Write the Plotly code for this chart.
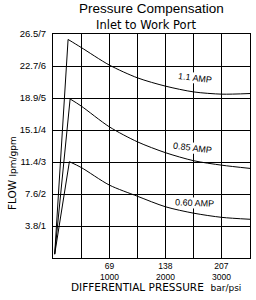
import plotly.graph_objects as go

# ---- data ----
psi_11 = [30, 268, 500, 1000, 1500, 2000, 2500, 3000, 3500]
gpm_11 = [0.12, 6.83, 6.58, 6.03, 5.63, 5.37, 5.19, 5.12, 5.14]

psi_085 = [30, 304, 500, 1000, 1500, 2000, 2500, 3000, 3500]
gpm_085 = [0.12, 4.97, 4.75, 4.10, 3.63, 3.29, 3.04, 2.90, 2.80]

psi_060 = [30, 291, 500, 1000, 1500, 2000, 2500, 3000, 3500]
gpm_060 = [0.12, 3.01, 2.83, 2.28, 1.93, 1.60, 1.40, 1.27, 1.21]

curve_labels = ["1.1 AMP", "0.85 AMP", "0.60 AMP"]
label_psi = [2520, 2480, 2520]
label_gpm = [5.63, 3.44, 1.72]
label_angle = [7, 7, 2]

y_tickvals = [1, 2, 3, 4, 5, 6, 7]
y_ticktext = ["3.8/1", "7.6/2", "11.4/3", "15.1/4", "18.9/5", "22.7/6", "26.5/7"]

x_gridvals = [500, 1000, 1500, 2000, 2500, 3000]
x_tickvals = [1000, 2000, 3000]
x_bar = ["69", "138", "207"]
x_psi = ["1000", "2000", "3000"]

FONT = "Liberation Sans, Arial, sans-serif"
WIDE = "DejaVu Sans, sans-serif"

fig = go.Figure()
for px_, gy in [(psi_11, gpm_11), (psi_085, gpm_085), (psi_060, gpm_060)]:
    fig.add_trace(go.Scatter(x=px_[:2], y=gy[:2], mode="lines",
                             line=dict(color="black", width=1), showlegend=False))
    fig.add_trace(go.Scatter(x=px_[1:], y=gy[1:], mode="lines",
                             line=dict(color="black", width=1, shape="spline", smoothing=0.8),
                             showlegend=False))

ann = []
for t, xv, yv, a in zip(curve_labels, label_psi, label_gpm, label_angle):
    ann.append(dict(x=xv, y=yv, xref="x", yref="y", text=t, showarrow=False,
                    textangle=a, font=dict(family=FONT, size=9, color="black"),
                    bgcolor="white", borderpad=0))

for xv, b, p in zip(x_tickvals, x_bar, x_psi):
    ann.append(dict(x=xv, y=0, xref="x", yref="paper", yanchor="top",
                    text=b + "<br>" + p, showarrow=False, yshift=-1,
                    font=dict(family=FONT, size=8.5, color="black")))

ann.append(dict(xref="paper", yref="paper", x=(156 - 53) / 197, y=(258 - 287) / 224,
                yanchor="middle", xanchor="center", showarrow=False,
                text="DIFFERENTIAL PRESSURE  <span style='font-size:9px'>bar/psi</span>",
                font=dict(family=WIDE, size=10.5, color="black")))

ann.append(dict(xref="paper", yref="paper", x=(12 - 53) / 197, y=(258 - 173) / 224,
                xanchor="center", yanchor="middle", showarrow=False, textangle=-90,
                text="FLOW <span style='font-size:9px'>lpm/gpm</span>",
                font=dict(family=WIDE, size=10.5, color="black")))

ann.append(dict(xref="paper", yref="paper", x=(151 - 53) / 197, y=(258 - 8.5) / 224,
                xanchor="center", yanchor="middle", showarrow=False,
                text="Pressure Compensation",
                font=dict(family=FONT, size=13.5, color="black")))
ann.append(dict(xref="paper", yref="paper", x=(146 - 53) / 197, y=(258 - 25.5) / 224,
                xanchor="center", yanchor="middle", showarrow=False,
                text="Inlet to Work Port",
                font=dict(family=WIDE, size=11.5, color="black")))

fig.update_layout(
    width=256, height=300,
    margin=dict(l=53, r=6, t=34, b=42, pad=0),
    paper_bgcolor="white", plot_bgcolor="white",
    annotations=ann,
    xaxis=dict(range=[0, 3500], tickvals=x_gridvals, showticklabels=False,
               showgrid=True, gridcolor="black", gridwidth=1, zeroline=False,
               showline=True, mirror=True, linecolor="black", linewidth=1, ticks=""),
    yaxis=dict(range=[0, 7], tickvals=y_tickvals, ticktext=y_ticktext,
               showgrid=True, gridcolor="black", gridwidth=1, zeroline=False,
               showline=True, mirror=True, linecolor="black", linewidth=1, ticks="",
               ticklabelstandoff=4,
               tickfont=dict(family=FONT, size=9.5, color="black")),
)

fig.write_html("out.html")
